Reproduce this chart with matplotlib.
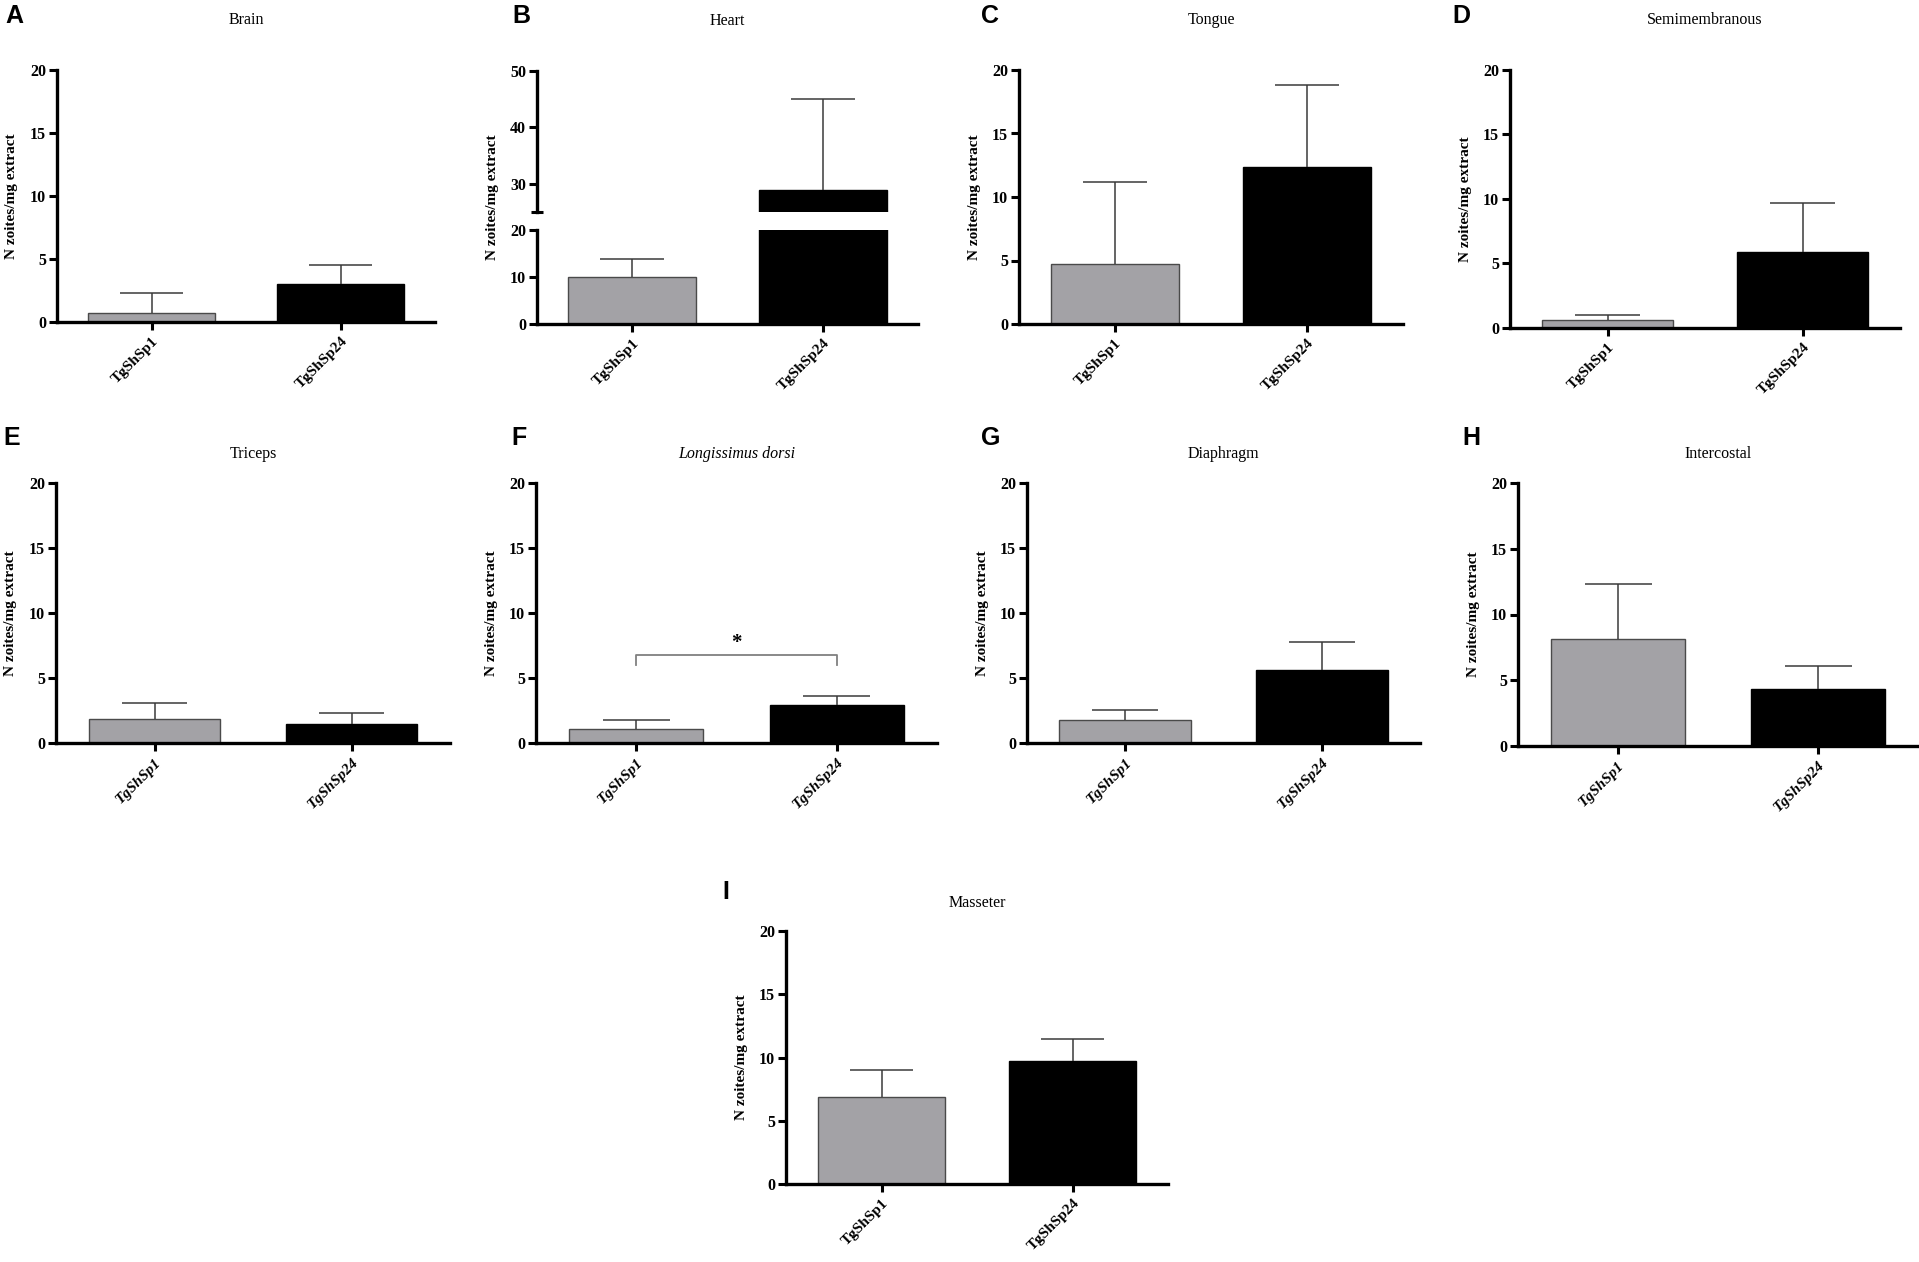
import matplotlib.pyplot as plt

plt.rcParams['font.family'] = ['Liberation Serif', 'DejaVu Serif']
plt.rcParams['font.weight'] = 'bold'

# data (mean and top of the error bar)
groups = ['TgShSp1', 'TgShSp24']
tissues = ['Brain', 'Heart', 'Tongue', 'Semimembranous', 'Triceps',
           'Longissimus dorsi', 'Diaphragm', 'Intercostal', 'Masseter']
letters = ['A', 'B', 'C', 'D', 'E', 'F', 'G', 'H', 'I']
sp1_mean = [0.75, 10.0, 4.75, 0.6, 1.85, 1.05, 1.75, 8.15, 6.9]
sp1_top = [2.3, 13.8, 11.15, 1.0, 3.1, 1.75, 2.55, 12.3, 9.0]
sp24_mean = [3.05, 28.9, 12.4, 5.9, 1.5, 2.9, 5.6, 4.35, 9.7]
sp24_top = [4.5, 45.0, 18.8, 9.7, 2.3, 3.65, 7.8, 6.1, 11.45]

# significance bracket for Longissimus dorsi
sig_panel = 5
sig_low, sig_high = 6.0, 6.8

W, H = 1919, 1262
fig = plt.figure(figsize=(W / 100, H / 100), dpi=100)

# axes boxes in pixels: x left, x right, y top, y bottom
boxes = [(57, 435, 70, 322), (537, 918, 71, 324), (1019, 1403, 70, 324),
         (1510, 1900, 70, 328), (56, 450, 483, 743), (536, 937, 483, 743),
         (1027, 1420, 483, 743), (1518, 1918, 483, 746), (786, 1168, 931, 1184)]
letter_pos = [(5, 4), (512, 4), (981, 4), (1452, 4), (3, 426), (511, 426),
              (981, 426), (1462, 426), (722, 880)]
title_pad = [33, 33, 33, 33, 18, 18, 18, 18, 17]

GREY = '#a3a2a6'
EDGE = '#4a4a4a'
ERR = '#3a3a3a'
BW = 0.67


def rect(x0, x1, y0, y1):
    return [x0 / W, 1 - y1 / H, (x1 - x0) / W, (y1 - y0) / H]


def style(ax, bottom=True):
    for s in ['top', 'right']:
        ax.spines[s].set_visible(False)
    ax.spines['left'].set_linewidth(2.4)
    ax.spines['bottom'].set_linewidth(2.4)
    ax.spines['bottom'].set_visible(bottom)
    ax.tick_params(axis='y', length=6, width=2.2, labelsize=11.5, pad=2)
    ax.tick_params(axis='x', length=6, width=2.2, labelsize=11, pad=3)
    ax.set_xlim(-0.5, 1.5)


def draw_bars(ax, i):
    means = [sp1_mean[i], sp24_mean[i]]
    tops = [sp1_top[i], sp24_top[i]]
    ax.bar([0, 1], means, width=BW, color=[GREY, 'black'],
           edgecolor=[EDGE, 'black'], linewidth=1, zorder=2)
    ax.vlines([0, 1], means, tops, color=ERR, lw=1.1, zorder=3)
    ax.hlines(tops, [-BW / 4, 1 - BW / 4], [BW / 4, 1 + BW / 4], color=ERR, lw=1.1, zorder=3)


for i, (x0, x1, y0, y1) in enumerate(boxes):
    italic = 'italic' if 4 <= i <= 7 else 'normal'
    if i == 1:
        # broken y axis for the heart
        lower = fig.add_axes(rect(x0, x1, 230, y1))
        upper = fig.add_axes(rect(x0, x1, y0, 212))
        for ax in (lower, upper):
            draw_bars(ax, i)
        style(lower)
        style(upper, bottom=False)
        lower.set_ylim(0, 20)
        lower.set_yticks([0, 10, 20])
        upper.set_ylim(25, 50)
        upper.set_yticks([30, 40, 50])
        upper.set_xticks([])
        lower.set_yticks([20], minor=True)
        upper.set_yticks([25], minor=True)
        for ax in (lower, upper):
            ax.tick_params(axis='y', which='minor', direction='inout', length=9, width=2.2)
        ax = lower
        title_ax = upper
    else:
        ax = fig.add_axes(rect(x0, x1, y0, y1))
        draw_bars(ax, i)
        style(ax)
        ax.set_ylim(0, 20)
        ax.set_yticks([0, 5, 10, 15, 20])
        title_ax = ax
    ax.set_xticks([0, 1], groups, rotation=45, ha='right',
                  rotation_mode='anchor', fontstyle=italic)

    title_style = 'italic' if i == 5 else 'normal'
    title_ax.set_title(tissues[i], fontsize=11.5, fontstyle=title_style, pad=title_pad[i])

    fig.text((x0 - 45) / W, 1 - (y0 + y1) / 2 / H, 'N zoites/mg extract',
             rotation=90, ha='center', va='center', fontsize=11)

    lx, ly = letter_pos[i]
    fig.text(lx / W, 1 - ly / H, letters[i], ha='left', va='top',
             fontsize=18, fontweight='bold', family='Liberation Sans')

    if i == sig_panel:
        ax.plot([0, 0, 1, 1], [sig_low, sig_high, sig_high, sig_low],
                color='#808080', lw=1.3)
        ax.text(0.5, sig_high + 0.1, '*', ha='center', va='bottom', fontsize=15)

fig.savefig('out.png', dpi=100)
